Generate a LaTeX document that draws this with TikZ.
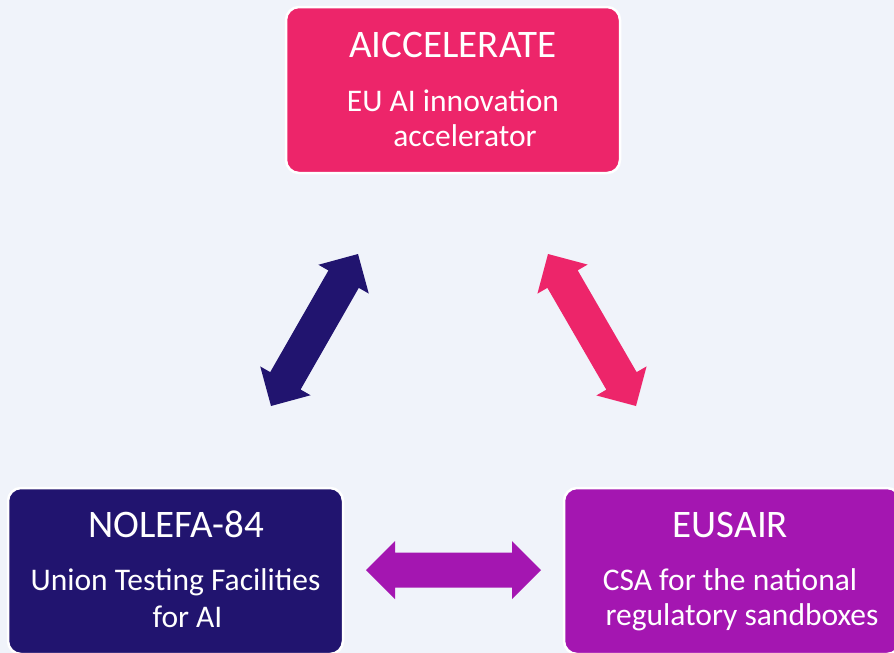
\documentclass[tikz,border=0pt]{standalone}
\usepackage{fontspec}
\setmainfont{Carlito}
\usetikzlibrary{calc}
\definecolor{bg}{RGB}{240,243,250}
\definecolor{cpink}{RGB}{237,37,106}
\definecolor{cnavy}{RGB}{33,20,111}
\definecolor{cpurple}{RGB}{164,22,177}
\newcommand\blockarrow[3]{%
 \fill[#1] (#2)
 -- ($(#2)!29pt!(#3)!29pt!90:(#3)$)
 -- ($(#2)!29pt!(#3)!17.5pt!90:(#3)$)
 -- ($(#3)!29pt!(#2)!17.5pt!-90:(#2)$)
 -- ($(#3)!29pt!(#2)!29pt!-90:(#2)$)
 -- (#3)
 -- ($(#3)!29pt!(#2)!29pt!90:(#2)$)
 -- ($(#3)!29pt!(#2)!17.5pt!90:(#2)$)
 -- ($(#2)!29pt!(#3)!17.5pt!-90:(#3)$)
 -- ($(#2)!29pt!(#3)!29pt!-90:(#3)$)
 -- cycle;}
\tikzset{
  box/.style={draw=white, line width=2.5pt, rounded corners=13pt, inner sep=0pt,
              minimum width=335pt, minimum height=166pt},
  ttl/.style={text=white, inner sep=0pt, anchor=base, font=\fontsize{39}{47}\selectfont},
  sub/.style={text=white, inner sep=0pt, anchor=base, font=\fontsize{31.5}{38}\selectfont}
}
\begin{document}
\begin{tikzpicture}[x=1pt, y=-1pt]
\clip (0,0) rectangle (894,653);
\fill[bg] (0,0) rectangle (894,653);
% boxes
\node[box, fill=cpink, minimum width=334pt] (acc) at (453,90) {};
\node[box, fill=cnavy] (nol) at (175.5,571) {};
\node[box, fill=cpurple, minimum width=336pt] (eus) at (732,571) {};
% texts
\node[ttl] (accT) at (453,57) {AICCELERATE};
\node[sub] (accS1) at (453,111) {EU AI innovation};
\node[sub] (accS2) at (465,146) {accelerator};
\node[ttl] (nolT) at (176,537) {NOLEFA-84};
\node[sub] (nolS1) at (175.5,590) {Union Testing Facilities};
\node[sub] (nolS2) at (187.5,627) {for AI};
\node[ttl] (eusT) at (730.5,537) {EUSAIR};
\node[sub] (eusS1) at (730,590) {CSA for the national};
\node[sub] (eusS2) at (742,625) {regulatory sandboxes};
% arrows
\coordinate (dA) at (358,254);
\coordinate (dB) at (271,406);
\coordinate (pA) at (548,254);
\coordinate (pB) at (636,406);
\coordinate (hA) at (366,570);
\coordinate (hB) at (541,570);
\blockarrow{cnavy}{dA}{dB}
\blockarrow{cpink}{pA}{pB}
\blockarrow{cpurple}{hA}{hB}
\end{tikzpicture}
\end{document}
